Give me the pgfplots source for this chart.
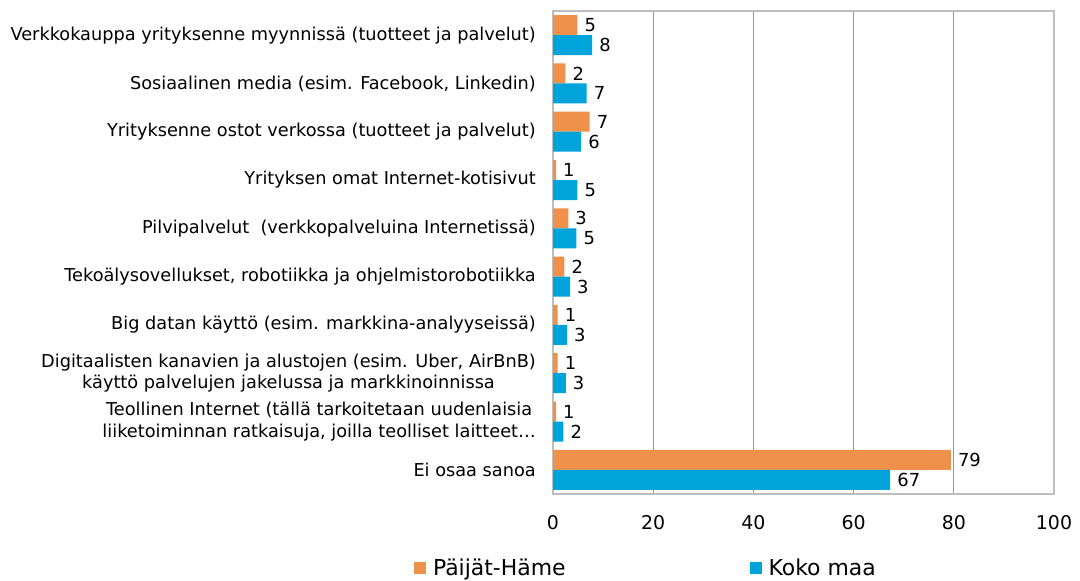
\documentclass[border=0pt]{standalone}
\usepackage{pgfplots}
\pgfplotsset{compat=1.18}
\usepackage{fontspec}
\setmainfont{DejaVu Sans}
\definecolor{orangeC}{RGB}{240,145,75}
\definecolor{blueC}{RGB}{0,163,218}
\definecolor{gridC}{RGB}{150,150,150}
\definecolor{borderC}{RGB}{190,190,190}
\begin{document}
\begin{tikzpicture}[x=1bp,y=1bp]
\useasboundingbox (0,0) rectangle (1080,581);
\begin{axis}[
  at={(553bp,87bp)}, anchor=south west, scale only axis,
  width=501bp, height=483bp,
  xbar, bar width=20bp,
  xmin=0, xmax=100, ymin=-0.5, ymax=9.5, y dir=reverse,
  xtick={0,20,...,100}, ytick={0,...,9},
  yticklabels={
    Verkkokauppa yrityksenne myynnissä (tuotteet ja palvelut),
    {Sosiaalinen media (esim. Facebook, Linkedin)},
    Yrityksenne ostot verkossa (tuotteet ja palvelut),
    Yrityksen omat Internet-kotisivut,
    Pilvipalvelut\ \ (verkkopalveluina Internetissä),
    {Tekoälysovellukset, robotiikka ja ohjelmistorobotiikka},
    Big datan käyttö (esim. markkina-analyyseissä),
    {Digitaalisten kanavien ja alustojen (esim. Uber, AirBnB)\\käyttö palvelujen jakelussa ja markkinoinnissa},
    {Teollinen Internet (tällä tarkoitetaan uudenlaisia\\liiketoiminnan ratkaisuja, joilla teolliset laitteet…},
    Ei osaa sanoa},
  /pgf/number format/assume math mode=true,
  major tick length=0pt,
  xmajorgrids, ymajorgrids=false,
  major grid style={gridC, line width=0.8bp},
  axis line style={borderC, line width=1.2bp},
  yticklabel style={anchor=east, align=center, inner sep=0pt, xshift=-17bp,
    font=\fontsize{17.8}{21.5}\selectfont},
  xticklabel style={anchor=north, inner sep=0pt, yshift=-21bp,
    font=\fontsize{19}{22}\selectfont},
  nodes near coords={\pgfmathprintnumber[fixed,precision=0]{\pgfplotspointmeta}},
  point meta=x,
  nodes near coords style={anchor=west, inner sep=0pt, xshift=7bp, text=black,
    font=\fontsize{18}{21}\selectfont},
  legend columns=2,
  legend style={at={(-0.2774,-0.1532)}, anchor=west, draw=none, fill=none,
    inner sep=0pt, outer sep=0pt,
    nodes={inner sep=0pt, font=\fontsize{22}{25}\selectfont},
    /tikz/every odd column/.append style={column sep=7bp},
    /tikz/every even column/.append style={column sep=184bp}},
]
\addplot[fill=orangeC, draw=none, bar shift=10bp,
  legend image code/.code={\fill[orangeC] (0bp,-6bp) rectangle (12bp,6bp);}]
  coordinates {(4.85,0) (2.46,1) (7.3,2) (0.6,3) (3.05,4) (2.26,5) (0.93,6) (0.93,7) (0.6,8) (79.4,9)};
\addlegendentry{Päijät-Häme}
\addplot[fill=blueC, draw=none, bar shift=-10bp,
  legend image code/.code={\fill[blueC] (0bp,-6bp) rectangle (12bp,6bp);}]
  coordinates {(7.8,0) (6.7,1) (5.6,2) (4.85,3) (4.65,4) (3.4,5) (2.8,6) (2.55,7) (2.06,8) (67.3,9)};
\addlegendentry{Koko maa}
\end{axis}
\end{tikzpicture}
\end{document}
